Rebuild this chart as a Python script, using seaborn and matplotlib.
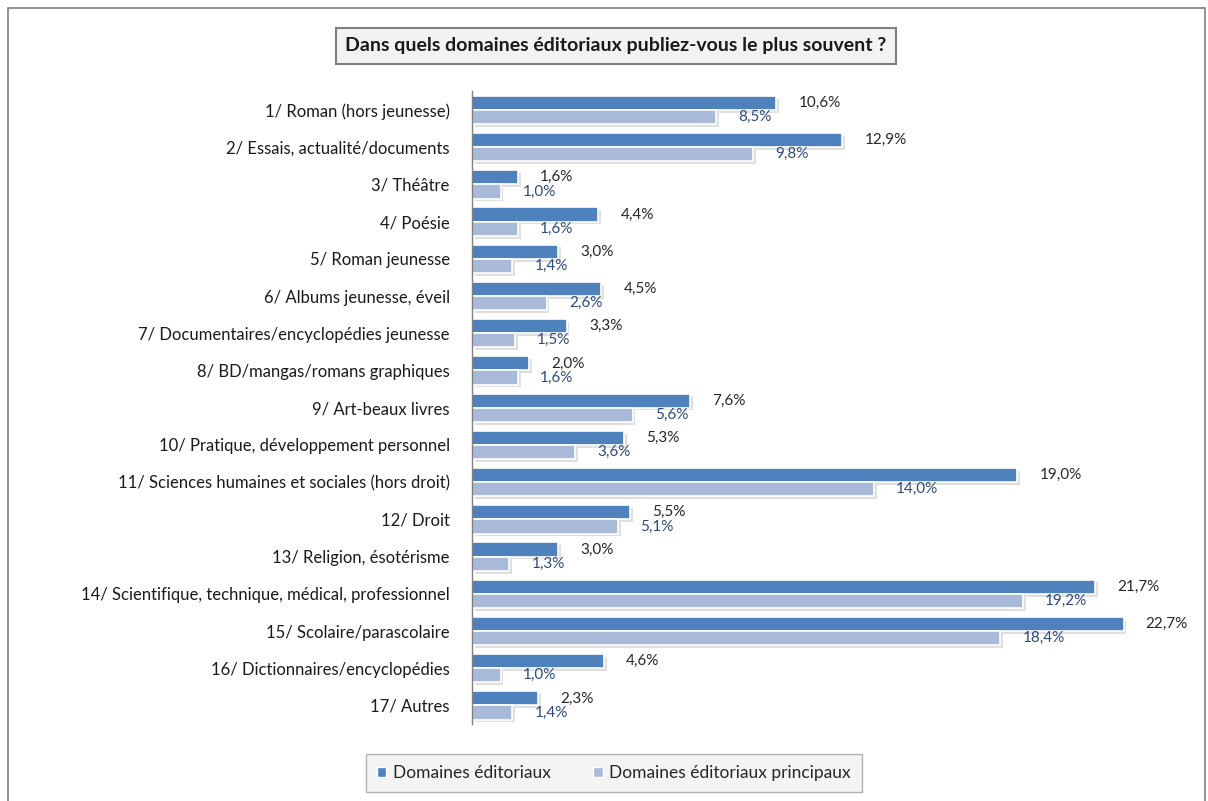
import numpy as np
import pandas as pd
import matplotlib.pyplot as plt
import matplotlib.patheffects as pe
from matplotlib.patches import Rectangle
import seaborn as sns

categories = [
    "1/ Roman (hors jeunesse)",
    "2/ Essais, actualité/documents",
    "3/ Théâtre",
    "4/ Poésie",
    "5/ Roman jeunesse",
    "6/ Albums jeunesse, éveil",
    "7/ Documentaires/encyclopédies jeunesse",
    "8/ BD/mangas/romans graphiques",
    "9/ Art-beaux livres",
    "10/ Pratique, développement personnel",
    "11/ Sciences humaines et sociales (hors droit)",
    "12/ Droit",
    "13/ Religion, ésotérisme",
    "14/ Scientifique, technique, médical, professionnel",
    "15/ Scolaire/parascolaire",
    "16/ Dictionnaires/encyclopédies",
    "17/ Autres",
]
domaines = [10.6, 12.9, 1.6, 4.4, 3.0, 4.5, 3.3, 2.0, 7.6, 5.3, 19.0, 5.5, 3.0, 21.7, 22.7, 4.6, 2.3]
principaux = [8.5, 9.8, 1.0, 1.6, 1.4, 2.6, 1.5, 1.6, 5.6, 3.6, 14.0, 5.1, 1.3, 19.2, 18.4, 1.0, 1.4]
series = ["Domaines éditoriaux", "Domaines éditoriaux principaux"]
colors = ["#4F81BD", "#A9BAD9"]
label_colors = ["#262626", "#2E4A7A"]

df = pd.DataFrame({
    "cat": categories * 2,
    "val": domaines + principaux,
    "serie": [series[0]] * len(categories) + [series[1]] * len(categories),
})

sns.set_style("white")
plt.rcParams["font.family"] = ["Lato", "DejaVu Sans"]

fig = plt.figure(figsize=(12.08, 8.01), dpi=100)
ax = fig.add_axes([0.3907, 0.096, 0.594, 0.79])

sns.barplot(data=df, y="cat", x="val", hue="serie", palette=colors, saturation=1,
            orient="h", width=0.76, ax=ax, legend=False,
            edgecolor="white", linewidth=1.2)

# soft drop shadow like the office chart
shadow = [pe.SimplePatchShadow(offset=(2, -2), shadow_rgbFace="#b0b0b0", alpha=0.4), pe.Normal()]
for p in ax.patches:
    p.set_path_effects(shadow)

for i, cont in enumerate(ax.containers):
    vals = domaines if i == 0 else principaux
    labels = [f"{v:.1f}%".replace(".", ",") for v in vals]
    ax.bar_label(cont, labels=labels, padding=16, fontsize=11, color=label_colors[i],
                 label_type="edge")

ax.set_xlim(0, 25)
ax.set_xlabel("")
ax.set_ylabel("")
ax.set_xticks([])
ax.tick_params(axis="y", length=0, labelsize=12, pad=16, colors="#1a1a1a")
for s in ["top", "right", "bottom"]:
    ax.spines[s].set_visible(False)
ax.spines["left"].set_color("#808080")
ax.spines["left"].set_linewidth(1)

# outer frame
fig.patches.append(Rectangle((8 / 1208, -0.01), 1197 / 1208, 1 - 8 / 801 + 0.01,
                             transform=fig.transFigure, fill=False,
                             edgecolor="#7f7f7f", linewidth=1.2))

fig.text(616 / 1208, 1 - 46 / 801, "Dans quels domaines éditoriaux publiez-vous le plus souvent ?",
         ha="center", va="center", fontsize=14, fontweight="bold", color="#1a1a1a",
         bbox=dict(boxstyle="square,pad=0.5", facecolor="#F2F2F2", edgecolor="#7f7f7f", linewidth=1.5))

handles = [Rectangle((0, 0), 1, 1, facecolor=c) for c in colors]
leg = fig.legend(handles, series, loc="center", bbox_to_anchor=(614 / 1208, 1 - 773 / 801),
                 ncol=2, frameon=True, fancybox=False, fontsize=12.5,
                 handlelength=0.55, handleheight=0.55, handletextpad=0.4, columnspacing=2.4,
                 borderpad=0.65, borderaxespad=0)
leg.get_frame().set_facecolor("#F2F2F2")
leg.get_frame().set_edgecolor("#a0a0a0")
leg.get_frame().set_linewidth(1)

fig.savefig("out.png", dpi=100)
